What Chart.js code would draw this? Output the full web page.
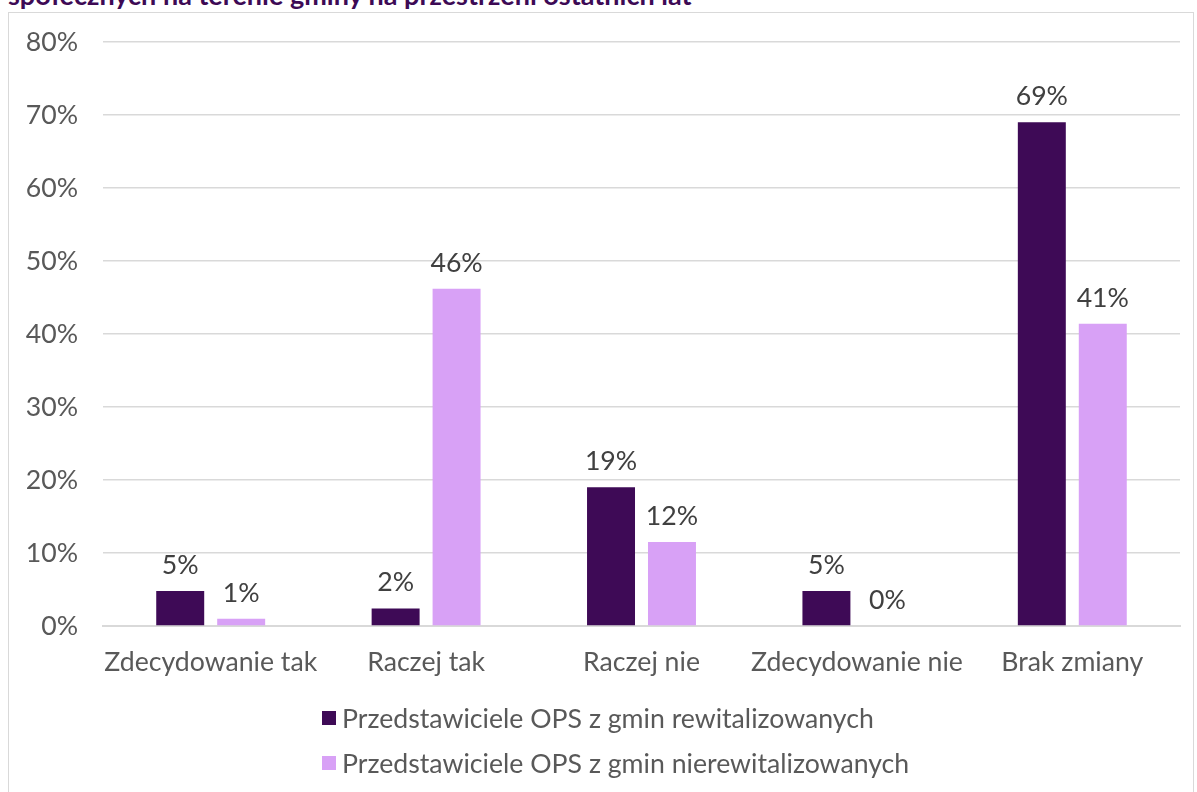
<!DOCTYPE html>
<html><head><meta charset="utf-8">
<script src="https://cdn.jsdelivr.net/npm/chart.js@4"></script>
<style>
html,body{margin:0;padding:0;background:#fff;width:1197px;height:792px;overflow:hidden;font-family:Lato,"Open Sans",sans-serif;}
#title{position:absolute;left:8px;top:-22px;font-weight:bold;font-size:27px;color:#3d0a55;white-space:nowrap;}
#frame{position:absolute;left:8px;top:12px;width:1186px;height:800px;border:1px solid #d9d9d9;box-sizing:border-box;background:#fff;}
#wrap{position:absolute;left:0;top:0;width:1197px;height:792px;}
#legend{position:absolute;left:322px;top:695px;font-size:26.67px;color:#595959;}
.li{height:45px;display:flex;align-items:center;position:relative;}
.sw{width:14px;height:14px;margin-right:6px;}
</style></head><body>
<div id="title">społecznych na terenie gminy na przestrzeni ostatnich lat</div>
<div id="frame"></div>
<div id="wrap"><canvas id="c" width="1197" height="792"></canvas></div>
<div id="legend"></div>
<script>
const categories = ["Zdecydowanie tak","Raczej tak","Raczej nie","Zdecydowanie nie","Brak zmiany"];
const seriesNames = ["Przedstawiciele OPS z gmin rewitalizowanych","Przedstawiciele OPS z gmin nierewitalizowanych"];
const rewitalizowane = [4.8, 2.4, 19.0, 4.8, 69.0];
const nierewitalizowane = [1.0, 46.2, 11.5, 0.0, 41.4];
const yTicks = [0,10,20,30,40,50,60,70,80];
const colors = ["#3e0a56","#d8a1f6"];

const lg = document.getElementById('legend');
seriesNames.forEach((n,i)=>{
  const d=document.createElement('div');d.className='li';
  d.innerHTML='<span class="sw" style="background:'+colors[i]+'"></span><span>'+n+'</span>';
  lg.appendChild(d);
});

const labelPlugin = {
  id:'vlabels',
  afterDatasetsDraw(chart){
    const ctx=chart.ctx;
    ctx.save();
    ctx.font='26.67px Lato';
    ctx.fillStyle='#404040';
    ctx.textAlign='center';
    ctx.textBaseline='alphabetic';
    chart.data.datasets.forEach((ds,di)=>{
      chart.getDatasetMeta(di).data.forEach((bar,i)=>{
        ctx.fillText(Math.round(ds.data[i])+'%', bar.x, bar.y-17);
      });
    });
    ctx.restore();
  }
};

new Chart(document.getElementById('c'),{
  type:'bar',
  data:{labels:categories,datasets:[
    {label:seriesNames[0],data:rewitalizowane,backgroundColor:colors[0]},
    {label:seriesNames[1],data:nierewitalizowane,backgroundColor:colors[1]}
  ]},
  options:{
    responsive:false,animation:false,
    datasets:{bar:{categoryPercentage:0.566,barPercentage:0.787}},
    layout:{padding:{left:0,right:17,top:42,bottom:106}},
    plugins:{legend:{display:false},tooltip:{enabled:false}},
    scales:{
      x:{grid:{display:false,drawTicks:false},border:{display:true,color:'#d9d9d9',width:2},
         ticks:{font:{family:'Lato',size:26.67},color:'#595959',padding:20,maxRotation:0,minRotation:0,autoSkip:false},
         afterFit(s){s.height=60;}},
      y:{min:0,max:80,afterBuildTicks(s){s.ticks=yTicks.map(v=>({value:v}));},
         grid:{color:'#d9d9d9',lineWidth:1.5,drawTicks:false},border:{display:false},
         ticks:{font:{family:'Lato',size:26.67},color:'#595959',padding:25,callback:v=>v+'%'},
         afterFit(s){s.width=103;}}
    }
  },
  plugins:[labelPlugin]
});
</script>
</body></html>
